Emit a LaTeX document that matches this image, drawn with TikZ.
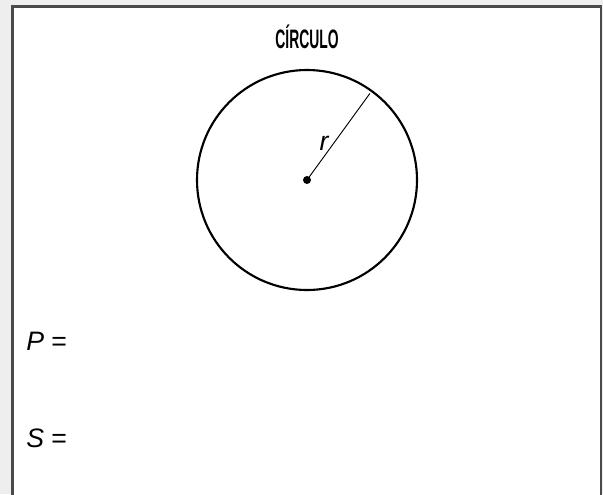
\documentclass[tikz,border=0pt]{standalone}
\usepackage{fontspec}
\setmainfont{Liberation Sans}
\usetikzlibrary{positioning,calc}
\definecolor{pagegray}{HTML}{EEEEEE}
\definecolor{framegray}{HTML}{4A4A4A}

\begin{document}
\begin{tikzpicture}[
    x=0.75pt, y=-0.75pt,
    frame/.style={draw=framegray, line width=1.6pt, fill=white},
    title/.style={font=\fontsize{20}{24}\selectfont\bfseries},
    formula/.style={font=\fontsize{20}{24}\selectfont, anchor=west, inner sep=0pt},
    radiusline/.style={line width=0.7pt},
  ]
    % Page
    \useasboundingbox (0,0) rectangle (603,494);
    \fill[pagegray] (0,0) rectangle (603,494);
    \draw[frame] (12.5,6.5) rectangle (601,510);

    % Title
    \node[title] (title) at (307,37) {\scalebox{0.52}[1]{CÍRCULO}};

    % Circle
    \coordinate (centre) at (307,180);
    \draw[line width=1.6pt] (centre) circle [radius=110];
    \coordinate (rim) at ($(centre)+(-54:107)$);
    \draw[radiusline] (centre) -- node[left=0pt, pos=0.42, font=\fontsize{20}{24}\selectfont\itshape] {r} (rim);
    \fill (centre) circle [radius=4];

    % Formulas
    \node[formula] (perim) at (26,341) {\textit{P} =};
    \node[formula] (area) at (26,438) {\textit{S} =};
\end{tikzpicture}
\end{document}
